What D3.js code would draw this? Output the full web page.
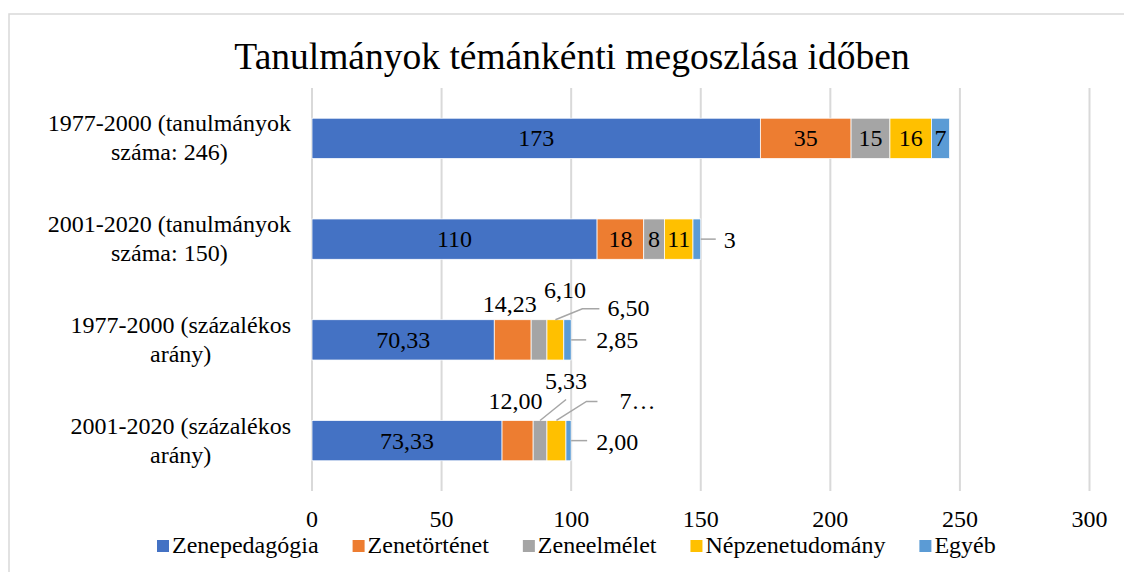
<!DOCTYPE html>
<html>
<head>
<meta charset="utf-8">
<title>Tanulmányok témánkénti megoszlása időben</title>
<script src="https://d3js.org/d3.v7.min.js"></script>
<style>
  body { margin: 0; background: #fff; }
  svg { display: block; }
  svg text { font-family: "Liberation Serif", "Times New Roman", Times, serif; }
</style>
</head>
<body>
<div id="chart"></div>
<script>
// data
var categories = [
  "1977-2000 (tanulmányok száma: 246)",
  "2001-2020 (tanulmányok száma: 150)",
  "1977-2000 (százalékos arány)",
  "2001-2020 (százalékos arány)"
];
// how Excel broke the category labels
var categoryLines = [
  ["1977-2000 (tanulmányok", "száma: 246)"],
  ["2001-2020 (tanulmányok", "száma: 150)"],
  ["1977-2000 (százalékos", "arány)"],
  ["2001-2020 (százalékos", "arány)"]
];
var series = ["Zenepedagógia", "Zenetörténet", "Zeneelmélet", "Népzenetudomány", "Egyéb"];
var colors = ["#4472C4", "#ED7D31", "#A5A5A5", "#FFC000", "#5B9BD5"];

var count1977 = [173, 35, 15, 16, 7];
var count2001 = [110, 18, 8, 11, 3];
var pct1977 = [70.33, 14.23, 6.10, 6.50, 2.85];
var pct2001 = [73.33, 12.00, 5.33, 7.33, 2.00];
var rows = [count1977, count2001, pct1977, pct2001];
var isPercent = [false, false, true, true];

var xTicks = [0, 50, 100, 150, 200, 250, 300];

// labels that don't fit are pulled out with leader lines
// anchor "top" = top of the segment centre, "end" = end of the bar
var callouts = [
  {row: 1, s: 4, anchor: "end", line: [[0, 0], [15, 0]], dx: 23, dy: 9, align: "start"},
  {row: 2, s: 1, anchor: "top", line: null, dx: -3, dy: -8, align: "middle"},
  {row: 2, s: 2, anchor: "top", line: null, dx: 26, dy: -22, align: "middle"},
  {row: 2, s: 3, anchor: "top", line: [[0, 0], [27, -11], [44, -11]], dx: 52, dy: -4, align: "start"},
  {row: 2, s: 4, anchor: "end", line: [[0, 0], [15, 0]], dx: 25, dy: 8, align: "start"},
  {row: 3, s: 1, anchor: "top", line: null, dx: -2, dy: -11, align: "middle"},
  {row: 3, s: 2, anchor: "top", line: [[0, 0], [26, -21]], dx: 26, dy: -31, align: "middle"},
  {row: 3, s: 3, anchor: "top", line: [[0, 0], [30, -19], [41, -19]], dx: 63, dy: -11, align: "start", text: "7…"},
  {row: 3, s: 4, anchor: "end", line: [[0, 0], [16, 0]], dx: 25, dy: 9, align: "start"}
];

var width = 1124, height = 572;
var plot = {left: 312, right: 1089.5, top: 88, bottom: 491};
var serif = "'Liberation Serif', 'Times New Roman', serif";

var svg = d3.select("#chart").append("svg")
  .attr("width", width)
  .attr("height", height)
  .attr("font-family", serif);

// chart area frame (runs off the page right and bottom)
svg.append("rect")
  .attr("x", 9).attr("y", 14)
  .attr("width", width + 20).attr("height", height + 20)
  .attr("fill", "#fff")
  .attr("stroke", "#D9D9D9")
  .attr("stroke-width", 1.5);

svg.append("text")
  .attr("x", 572).attr("y", 69)
  .attr("text-anchor", "middle")
  .attr("font-size", 37.5)
  .text("Tanulmányok témánkénti megoszlása időben");

var x = d3.scaleLinear().domain([0, 300]).range([plot.left, plot.right]);
var y = d3.scaleBand()
  .domain(categories)
  .range([plot.top, plot.bottom])
  .paddingInner(0.6)
  .paddingOuter(0.3);

// gridlines
svg.append("g").selectAll("line")
  .data(xTicks).enter().append("line")
  .attr("x1", function(d) { return x(d); })
  .attr("x2", function(d) { return x(d); })
  .attr("y1", plot.top).attr("y2", plot.bottom)
  .attr("stroke", "#D9D9D9")
  .attr("stroke-width", 2);

// tick labels
svg.append("g").selectAll("text")
  .data(xTicks).enter().append("text")
  .attr("x", function(d) { return x(d); })
  .attr("y", 527)
  .attr("text-anchor", "middle")
  .attr("font-size", 24)
  .text(function(d) { return d; });

// stacked segments
var segs = [];
rows.forEach(function(vals, r) {
  var acc = 0;
  vals.forEach(function(v, s) {
    segs.push({row: r, s: s, x0: acc, x1: acc + v, value: v});
    acc += v;
  });
});

svg.append("g").selectAll("rect")
  .data(segs).enter().append("rect")
  .attr("x", function(d) { return x(d.x0); })
  .attr("width", function(d) { return x(d.x1) - x(d.x0); })
  .attr("y", function(d) { return y(categories[d.row]); })
  .attr("height", y.bandwidth())
  .attr("fill", function(d) { return colors[d.s]; })
  .attr("stroke", "#fff")
  .attr("stroke-width", 0.75);

function fmt(d) {
  return isPercent[d.row] ? d.value.toFixed(2).replace(".", ",") : String(d.value);
}
function findCallout(d) {
  return callouts.find(function(c) { return c.row === d.row && c.s === d.s; });
}

// labels inside the bars
svg.append("g").selectAll("text")
  .data(segs.filter(function(d) { return !findCallout(d); }))
  .enter().append("text")
  .attr("x", function(d) { return (x(d.x0) + x(d.x1)) / 2; })
  .attr("y", function(d) { return y(categories[d.row]) + y.bandwidth() / 2 + 8; })
  .attr("text-anchor", "middle")
  .attr("font-size", 24)
  .text(fmt);

// labels outside, with leader lines
var outside = svg.append("g");
segs.forEach(function(d) {
  var c = findCallout(d);
  if (!c) return;
  var top = y(categories[d.row]);
  var ax, ay;
  if (c.anchor === "end") {
    ax = x(d.x1); ay = top + y.bandwidth() / 2;
  } else {
    ax = (x(d.x0) + x(d.x1)) / 2; ay = top;
  }
  if (c.line) {
    outside.append("path")
      .attr("d", d3.line()(c.line.map(function(p) { return [ax + p[0], ay + p[1]]; })))
      .attr("fill", "none")
      .attr("stroke", "#A6A6A6")
      .attr("stroke-width", 1.5);
  }
  outside.append("text")
    .attr("x", ax + c.dx)
    .attr("y", ay + c.dy)
    .attr("text-anchor", c.align)
    .attr("font-size", 24)
    .text(c.text || fmt(d));
});

// category labels: each block centred, right edge against the axis
var catG = svg.append("g");
categoryLines.forEach(function(lines, i) {
  var cy = y(categories[i]) + y.bandwidth() / 2;
  var g = catG.append("g");
  var texts = lines.map(function(t, k) {
    return g.append("text")
      .attr("y", cy - 7 + k * 29)
      .attr("text-anchor", "middle")
      .attr("font-size", 24)
      .text(t);
  });
  var w = d3.max(texts, function(t) { return t.node().getComputedTextLength(); });
  texts.forEach(function(t) { t.attr("x", 291 - w / 2); });
});

// legend
var legend = svg.append("g");
var lx = 157;
series.forEach(function(name, i) {
  legend.append("rect")
    .attr("x", lx).attr("y", 540)
    .attr("width", 12).attr("height", 12)
    .attr("fill", colors[i]);
  var t = legend.append("text")
    .attr("x", lx + 15).attr("y", 553)
    .attr("font-size", 24)
    .text(name);
  lx += 15 + t.node().getComputedTextLength() + 34;
});
</script>
</body>
</html>
